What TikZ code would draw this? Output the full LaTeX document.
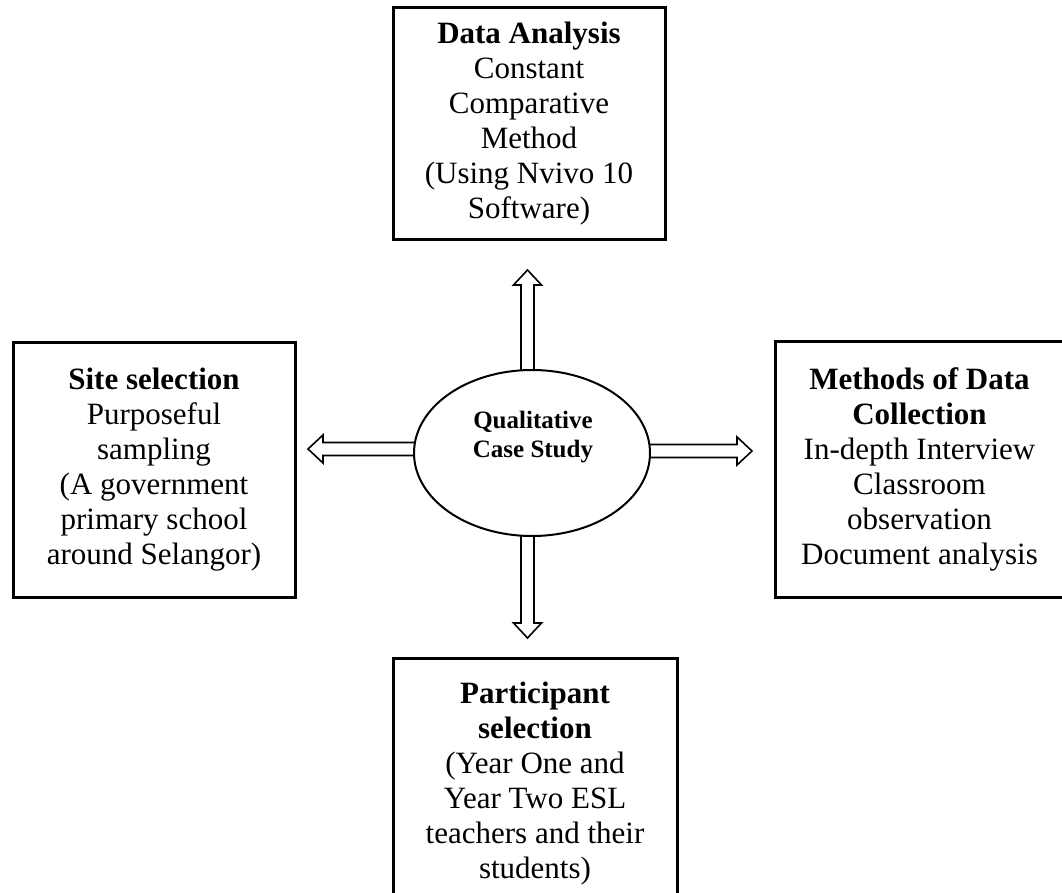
\documentclass[tikz,border=0pt]{standalone}
\usepackage{fontspec}
\setmainfont{Liberation Serif}
\usetikzlibrary{shapes.geometric,calc,backgrounds}

\tikzset{
  infobox/.style={draw, line width=3pt, rectangle, inner sep=0pt, align=center,
    font=\fontsize{31}{35}\selectfont},
  core/.style={draw, line width=2pt, ellipse, fill=white, inner sep=0pt,
    minimum width=236pt, minimum height=166pt},
  coretext/.style={align=center, inner sep=0pt, font=\fontsize{25}{29}\selectfont\bfseries},
  hollow/.style={draw, line width=1.6pt, fill=white, line join=miter},
}

% outlined block arrow from #1 to #2
\newcommand\hollowarrow[2]{%
  \draw[hollow] let \p1=(#1), \p2=(#2),
      \n1={veclen(\x2-\x1,\y2-\y1)}, \n2={atan2(\y2-\y1,\x2-\x1)} in
    [shift={(\p1)}, rotate=\n2]
    (0,-6.5) -- (\n1-15,-6.5) -- (\n1-15,-14) -- (\n1,0) --
    (\n1-15,14) -- (\n1-15,6.5) -- (0,6.5);
}

\begin{document}
\begin{tikzpicture}[x=1pt, y=1pt]
  \clip (0,0) rectangle (1062,-893);

  % outer boxes
  \node[infobox, minimum width=272pt, minimum height=232pt] (analysis) at (529,-124)
    {\textbf{Data Analysis}\\Constant\\Comparative\\Method\\(Using Nvivo 10\\Software)};
  \node[infobox, minimum width=282pt, minimum height=255pt] (site) at (154,-469.5)
    {\textbf{Site selection}\\Purposeful\\sampling\\(A government\\primary school\\around Selangor)};
  \node[infobox, minimum width=289pt, minimum height=256pt] (methods) at (919.5,-469)
    {\textbf{Methods of Data}\\\textbf{Collection}\\In-depth Interview\\Classroom\\observation\\Document analysis};
  \node[infobox, minimum width=284pt, minimum height=251pt] (participant) at (535,-783.5)
    {\textbf{Participant}\\\textbf{selection}\\(Year One and\\Year Two ESL\\teachers and their\\students)};

  % central ellipse
  \node[core] (case) at (532,-453) {};
  \node[coretext] (casetext) at (533,-437) {Qualitative\\Case Study};

  % arrow tips
  \coordinate (upT) at (527.5,-270);
  \coordinate (dnT) at (527.5,-638);
  \coordinate (lfT) at (308,-449);
  \coordinate (rtT) at (752,-451);

  \begin{pgfonlayer}{background}
    \hollowarrow{case.center -| upT}{upT}
    \hollowarrow{case.center -| dnT}{dnT}
    \hollowarrow{case.center |- lfT}{lfT}
    \hollowarrow{case.center |- rtT}{rtT}
  \end{pgfonlayer}
\end{tikzpicture}
\end{document}
